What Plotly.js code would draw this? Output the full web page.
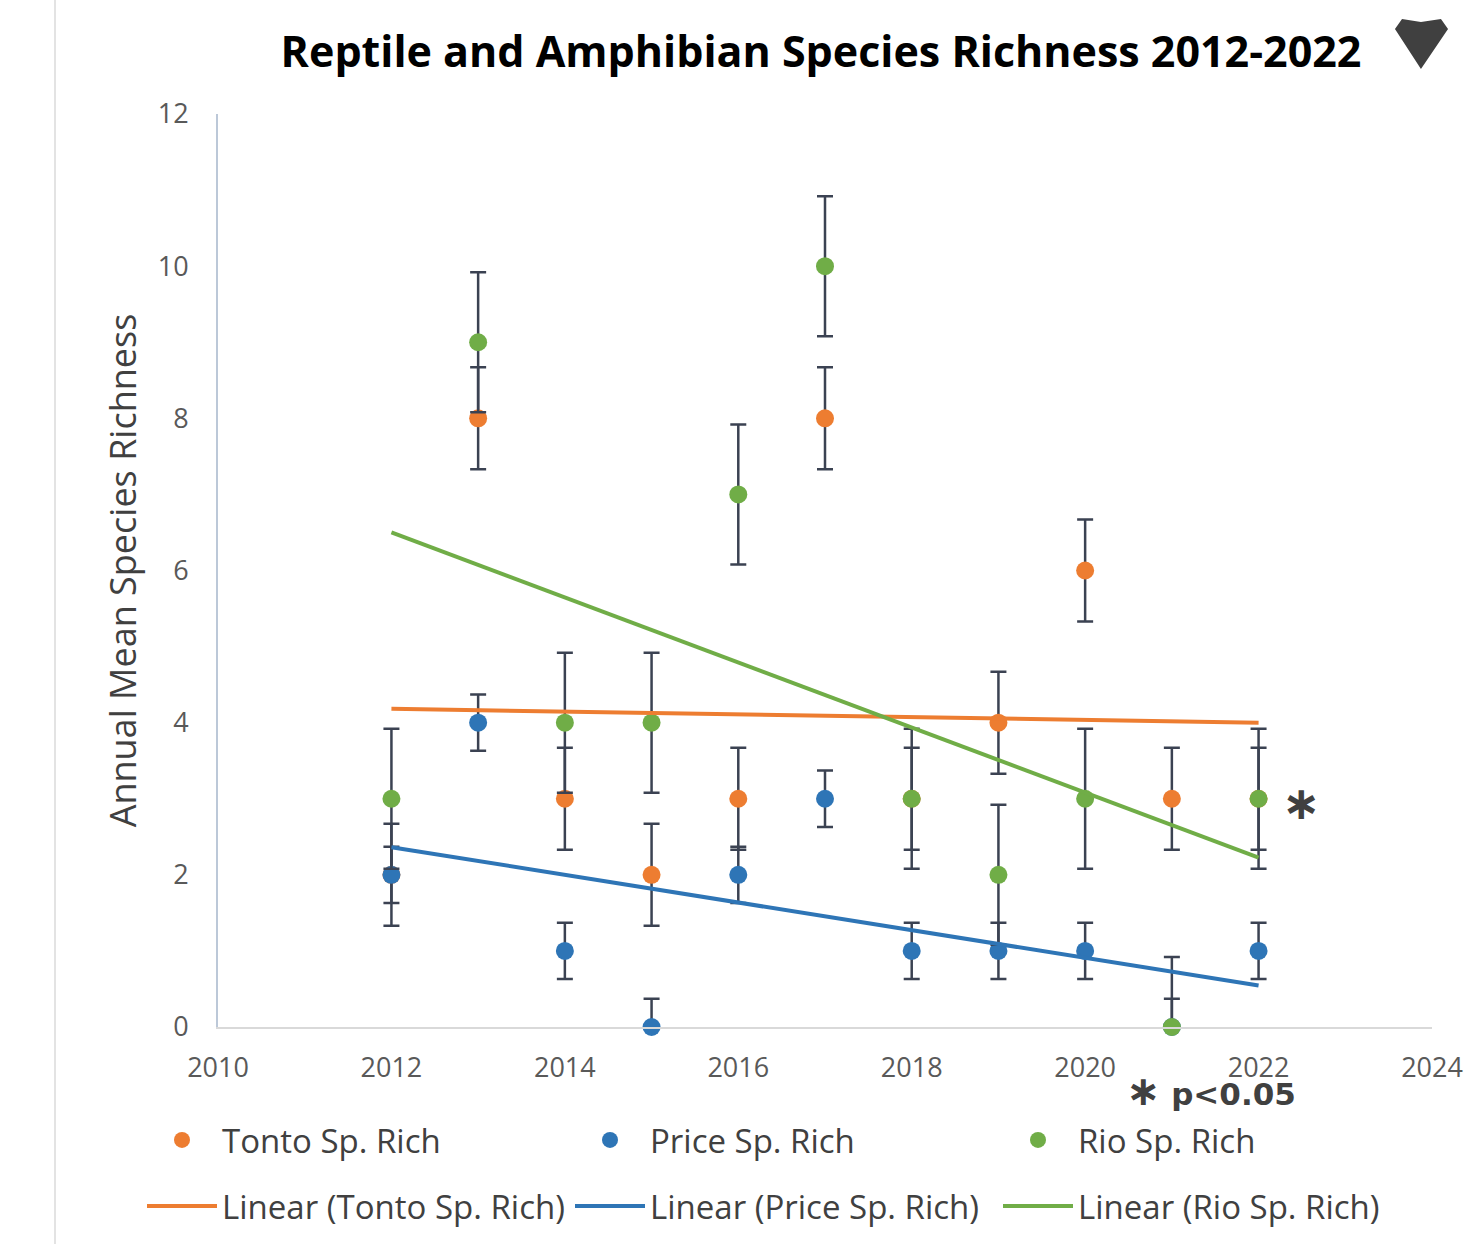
<!DOCTYPE html>
<html><head><meta charset="utf-8">
<script src="https://cdn.plot.ly/plotly-3.0.1.min.js"></script>
<style>body{margin:0;background:#fff}#chart{width:1475px;height:1244px}</style>
</head><body><div id="chart"></div>
<script>
// ---- data ----
const years     = [2012, 2013, 2014, 2015, 2016, 2017, 2018, 2019, 2020, 2021, 2022];
const tonto     = [2, 8, 3, 2, 3, 8, 3, 4, 6, 3, 3];
const price     = [2, 4, 1, 0, 2, 3, 1, 1, 1, 0, 1];
const rio       = [3, 9, 4, 4, 7, 10, 3, 2, 3, 0, 3];
const tontoErr  = [0.67, 0.67, 0.67, 0.67, 0.67, 0.67, 0.67, 0.67, 0.67, 0.67, 0.67];
const priceErr  = [0.37, 0.37, 0.37, 0.37, 0.37, 0.37, 0.37, 0.37, 0.37, 0.37, 0.37];
const rioErr    = [0.92, 0.92, 0.92, 0.92, 0.92, 0.92, 0.92, 0.92, 0.92, 0.92, 0.92];
const seriesNames = ['Tonto Sp. Rich', 'Price Sp. Rich', 'Rio Sp. Rich'];
const xTicks    = [2010, 2012, 2014, 2016, 2018, 2020, 2022, 2024];
const yTicks    = [0, 2, 4, 6, 8, 10, 12];

// ---- styling ----
const colors = ['#ED7D31', '#2E75B6', '#70AD47'];
const errColor = '#3B4252';
const FONT = 'Open Sans';

// least-squares linear trend, evaluated at the first and last x
function trend(xs, ys) {
  const n = xs.length;
  const mx = xs.reduce((a, b) => a + b, 0) / n;
  const my = ys.reduce((a, b) => a + b, 0) / n;
  let sxy = 0, sxx = 0;
  for (let i = 0; i < n; i++) { sxy += (xs[i] - mx) * (ys[i] - my); sxx += (xs[i] - mx) ** 2; }
  const b = sxy / sxx, a = my - b * mx;
  const x0 = Math.min(...xs), x1 = Math.max(...xs);
  return { x: [x0, x1], y: [a + b * x0, a + b * x1] };
}

const vals = [tonto, price, rio];
const errs = [tontoErr, priceErr, rioErr];
const traces = [];
vals.forEach((v, i) => {
  traces.push({
    type: 'scatter', mode: 'markers', x: years, y: v, name: seriesNames[i],
    marker: { color: colors[i], size: 18 },
    error_y: { type: 'data', array: errs[i], visible: true, color: errColor, thickness: 2.5, width: 8 },
    cliponaxis: false, legend: 'legend', hoverinfo: 'x+y'
  });
});
vals.forEach((v, i) => {
  const t = trend(years, v);
  traces.push({
    type: 'scatter', mode: 'lines', x: t.x, y: t.y, name: 'Linear (' + seriesNames[i] + ')',
    line: { color: colors[i], width: 4 }, cliponaxis: false, legend: 'legend2', hoverinfo: 'skip'
  });
});

// plot area geometry (px) used to place decorations in paper coords
const L = 218, R = 1432, T = 114, B = 1027;
const px = x => (x - L) / (R - L);
const py = y => (B - y) / (B - T);

const legendCommon = {
  orientation: 'h', xanchor: 'left', yanchor: 'middle',
  font: { family: FONT, size: 33, color: '#404040' },
  bgcolor: 'rgba(0,0,0,0)', entrywidth: 343, itemwidth: 70
};

const tri = [[1395,29],[1402,19],[1421,22],[1441,19],[1448,29],[1421,69]];
const triPath = 'M' + tri.map(p => px(p[0]).toFixed(4) + ',' + py(p[1]).toFixed(4)).join(' L') + ' Z';

const layout = {
  width: 1475, height: 1244,
  paper_bgcolor: '#ffffff', plot_bgcolor: '#ffffff',
  margin: { l: L, r: 1475 - R, t: T, b: 1244 - B, autoexpand: false },
  title: {
    text: 'Reptile and Amphibian Species Richness 2012-2022',
    font: { family: FONT, size: 43, color: '#000000', weight: 700 },
    x: 821 / 1475, xref: 'container', xanchor: 'center',
    y: 1 - 52 / 1244, yref: 'container', yanchor: 'middle'
  },
  xaxis: {
    range: [2010, 2024], tickvals: xTicks, ticktext: xTicks.map(String),
    showgrid: false, zeroline: false, showline: true, linecolor: '#D9D9D9', linewidth: 2,
    ticks: '', tickfont: { family: FONT, size: 27, color: '#595959' }, ticklabelstandoff: 16
  },
  yaxis: {
    range: [0, 12], tickvals: yTicks, ticktext: yTicks.map(String),
    showgrid: false, zeroline: false, showline: true, linecolor: '#BCC8D8', linewidth: 2,
    ticks: '', tickfont: { family: FONT, size: 27, color: '#595959' }, ticklabelstandoff: 22,
    title: { text: 'Annual Mean Species Richness', font: { family: FONT, size: 36, color: '#404040' }, standoff: 10 }
  },
  legend: Object.assign({}, legendCommon, { x: px(142), y: py(1140) }),
  legend2: Object.assign({}, legendCommon, { x: px(142), y: py(1206) }),
  showlegend: true,
  annotations: [
    { text: '∗', xref: 'x', yref: 'y', x: 2022.49, y: 2.94, showarrow: false,
      font: { family: 'DejaVu Sans', size: 46, color: '#404040', weight: 700 }, xanchor: 'center', yanchor: 'middle' },
    { text: '<span style="font-size:41px">∗</span> p<0.05', xref: 'x', yref: 'paper', x: 2021.45, y: py(1091), showarrow: false,
      font: { family: 'DejaVu Sans', size: 31, color: '#404040', weight: 700 }, xanchor: 'center', yanchor: 'middle' }
  ],
  shapes: [
    { type: 'line', xref: 'paper', yref: 'paper', x0: px(55), x1: px(55), y0: py(0), y1: py(1244),
      line: { color: '#E3E3E3', width: 2 } },
    { type: 'path', xref: 'paper', yref: 'paper', path: triPath, fillcolor: '#404040', line: { width: 0 } }
  ]
};

Plotly.newPlot('chart', traces, layout, { displayModeBar: false, responsive: false });
</script>
</body></html>
